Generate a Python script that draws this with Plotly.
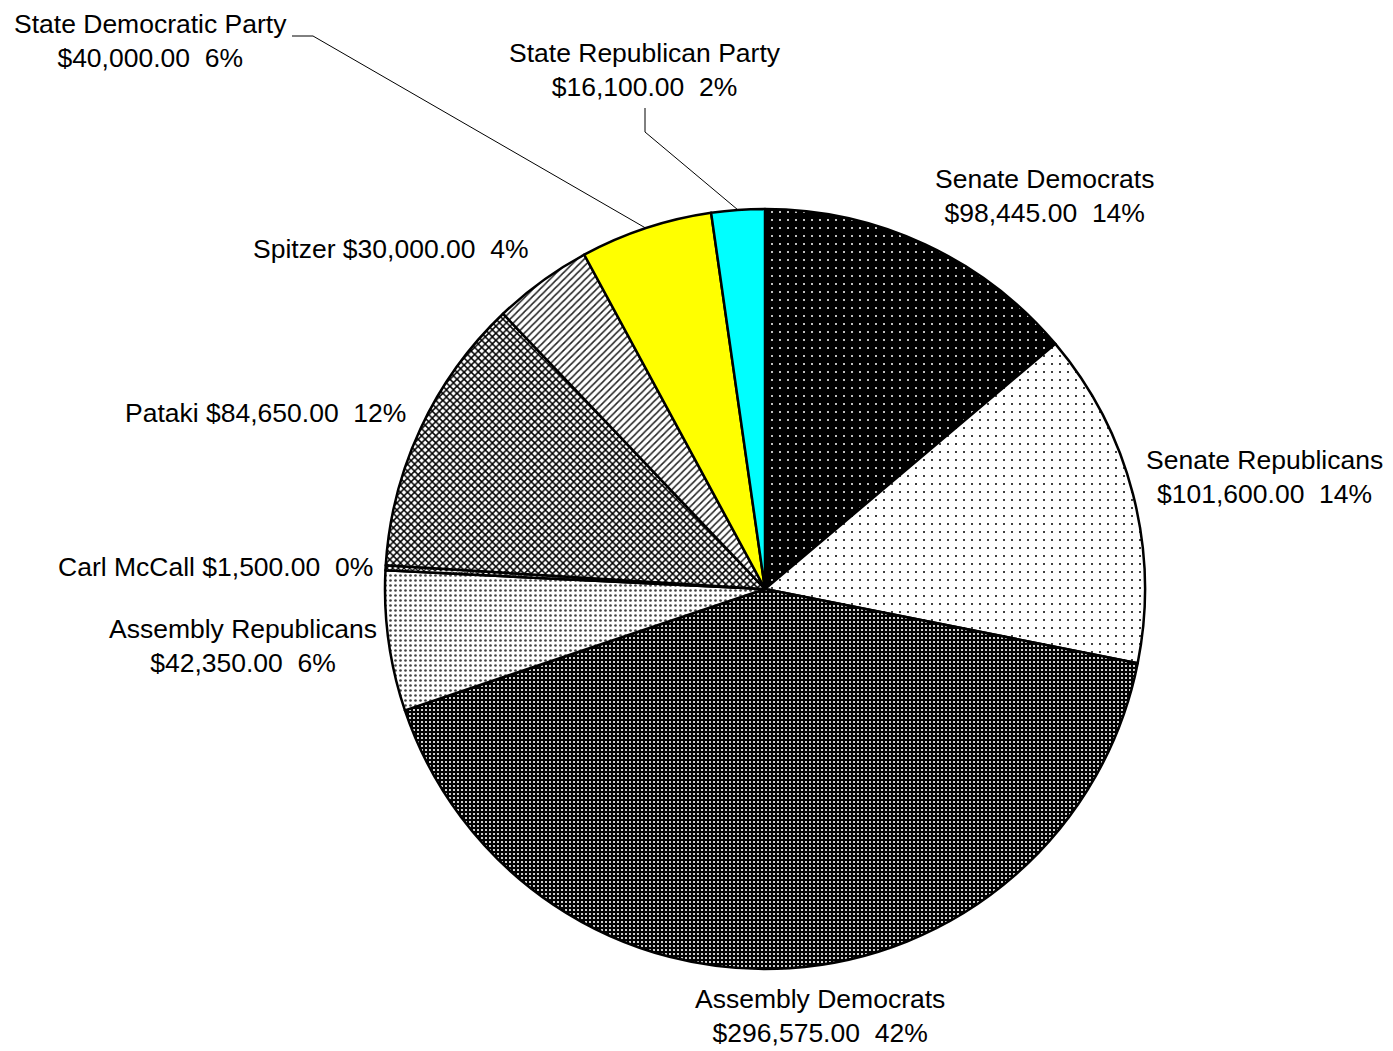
import math
import plotly.graph_objects as go

# slices, clockwise from 12 o'clock
names = ["Senate Democrats", "Senate Republicans", "Assembly Democrats",
         "Assembly Republicans", "Carl McCall", "Pataki", "Spitzer",
         "State Democratic Party", "State Republican Party"]
amounts = [98445, 101600, 296575, 42350, 1500, 84650, 30000, 40000, 16100]

# fills (Excel style patterns)
bg_colors = ["black", "white", "black", "white", "white", "white", "white", "yellow", "cyan"]
fg_colors = ["white", "black", "white", "#444444", "black", "black", "#222222", "black", "black"]
shapes = [".", ".", ".", ".", "x", "x", "/", "", ""]
sizes = [8, 8, 4, 5, 4, 5, 5, 8, 8]
solid = [0.05, 0.05, 0.22, 0.22, 0.5, 0.5, 0.3, 0.3, 0.3]

one_line = {"Carl McCall", "Pataki", "Spitzer"}
# small label nudges (px) to follow the original placement
nudge = {"Senate Democrats": (0, 3), "Senate Republicans": (-7, -12),
         "Assembly Democrats": (29, -5), "Assembly Republicans": (9, 2),
         "Carl McCall": (8, 0), "Pataki": (5, 9)}

OFF = 8  # page margin of the html body
W, H = 1393 - OFF, 1051 - OFF
CX, CY, R = 765, 589, 380  # pie centre / radius in screen px


def px2paper(x, y):
    return (x - OFF) / W, 1 - (y - OFF) / H


x0, y1 = px2paper(CX - R, CY - R)
x1, y0 = px2paper(CX + R, CY + R)

fig = go.Figure(go.Pie(
    labels=names, values=amounts, sort=False, direction="clockwise", rotation=0,
    textinfo="none", hoverinfo="label+value+percent", showlegend=False,
    domain=dict(x=[x0, x1], y=[y0, y1]),
    marker=dict(colors=bg_colors, line=dict(color="black", width=2.5),
                pattern=dict(shape=shapes, fgcolor=fg_colors, bgcolor=bg_colors,
                             size=sizes, solidity=solid, fillmode="replace")),
))

total = sum(amounts)
annotations = []
lines = []
cum = 0
for name, val in zip(names, amounts):
    mid = (cum + val / 2) / total * 2 * math.pi
    cum += val
    pct = round(val / total * 100)
    sep = " " if name in one_line else "<br>"
    txt = f"{name}{sep}${val:,.2f}\u00a0\u00a0{pct}%"
    s, c = math.sin(mid), math.cos(mid)
    ex, ey = CX + R * s, CY - R * c  # point on the rim
    if name == "State Democratic Party":
        ax, ay, xa, ya = 150, 8, "center", "top"
        lines.append([(292, 36), (313, 36), (ex, ey)])
    elif name == "State Republican Party":
        ax, ay, xa, ya = 645, 37, "center", "top"
        lines.append([(645, 108), (645, 132), (ex, ey)])
    else:
        dx, dy = nudge.get(name, (0, 0))
        ax, ay = CX + (R + 20) * s + dx, CY - (R + 20) * c + dy
        xa = "left" if s > 0.3 else ("right" if s < -0.3 else "center")
        ya = "bottom" if c > 0.3 else ("top" if c < -0.3 else "middle")
    x, y = px2paper(ax, ay)
    annotations.append(dict(x=x, y=y, xref="paper", yref="paper", text=txt,
                            showarrow=False, xanchor=xa, yanchor=ya, align="center",
                            borderpad=0))

shapes_l = []
for pts in lines:
    path = "M " + " L ".join(f"{px2paper(px, py)[0]},{px2paper(px, py)[1]}" for px, py in pts)
    shapes_l.append(dict(type="path", xref="paper", yref="paper", path=path,
                         line=dict(color="black", width=1)))

fig.update_layout(
    width=W, height=H, margin=dict(l=0, r=0, t=0, b=0),
    paper_bgcolor="white", plot_bgcolor="white",
    font=dict(family="Liberation Sans, Arial, sans-serif", size=26.5, color="black"),
    annotations=annotations, shapes=shapes_l,
)

fig.write_html("out.html")
